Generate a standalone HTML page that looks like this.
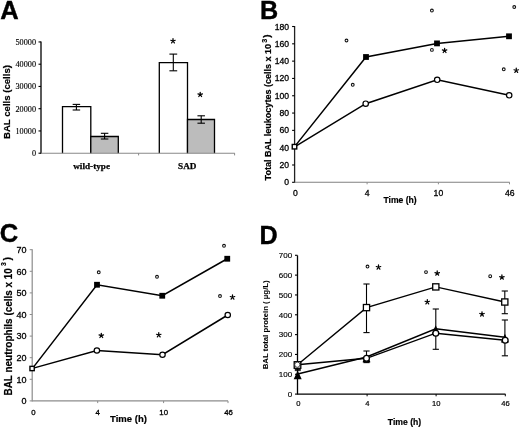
<!DOCTYPE html>
<html><head><meta charset="utf-8"><style>
html,body{margin:0;padding:0;background:#fff;width:520px;height:428px;overflow:hidden;}
svg{display:block;will-change:transform;}
</style></head><body>
<svg width="520" height="428" viewBox="0 0 520 428">
<rect width="520" height="428" fill="#fff"/>
<text x="0.3" y="18.5" font-size="25.5" font-family='"Liberation Sans", sans-serif' font-weight="bold" stroke="#000" stroke-width="0.4" text-anchor="start">A</text>
<line x1="41" y1="41.5" x2="41" y2="153.7" stroke="#000" stroke-width="1.3"/>
<line x1="38.5" y1="153.2" x2="41" y2="153.2" stroke="#000" stroke-width="1.1"/>
<text x="36.0" y="156.2" font-size="8.8" font-family='"Liberation Serif", serif' stroke="#000" stroke-width="0.15" text-anchor="end" textLength="4.1" lengthAdjust="spacingAndGlyphs">0</text>
<line x1="38.5" y1="130.95" x2="41" y2="130.95" stroke="#000" stroke-width="1.1"/>
<text x="36.0" y="133.95" font-size="8.8" font-family='"Liberation Serif", serif' stroke="#000" stroke-width="0.15" text-anchor="end" textLength="20.5" lengthAdjust="spacingAndGlyphs">10000</text>
<line x1="38.5" y1="108.69999999999999" x2="41" y2="108.69999999999999" stroke="#000" stroke-width="1.1"/>
<text x="36.0" y="111.69999999999999" font-size="8.8" font-family='"Liberation Serif", serif' stroke="#000" stroke-width="0.15" text-anchor="end" textLength="20.5" lengthAdjust="spacingAndGlyphs">20000</text>
<line x1="38.5" y1="86.44999999999999" x2="41" y2="86.44999999999999" stroke="#000" stroke-width="1.1"/>
<text x="36.0" y="89.44999999999999" font-size="8.8" font-family='"Liberation Serif", serif' stroke="#000" stroke-width="0.15" text-anchor="end" textLength="20.5" lengthAdjust="spacingAndGlyphs">30000</text>
<line x1="38.5" y1="64.19999999999999" x2="41" y2="64.19999999999999" stroke="#000" stroke-width="1.1"/>
<text x="36.0" y="67.19999999999999" font-size="8.8" font-family='"Liberation Serif", serif' stroke="#000" stroke-width="0.15" text-anchor="end" textLength="20.5" lengthAdjust="spacingAndGlyphs">40000</text>
<line x1="38.5" y1="41.94999999999999" x2="41" y2="41.94999999999999" stroke="#000" stroke-width="1.1"/>
<text x="36.0" y="44.94999999999999" font-size="8.8" font-family='"Liberation Serif", serif' stroke="#000" stroke-width="0.15" text-anchor="end" textLength="20.5" lengthAdjust="spacingAndGlyphs">50000</text>
<rect x="62.5" y="106.7" width="28.299999999999997" height="46.499999999999986" fill="#fff"/>
<path d="M62.5,153.2V106.7H90.8V153.2" fill="none" stroke="#000" stroke-width="1.3"/>
<rect x="90.8" y="136.5" width="27.5" height="16.69999999999999" fill="#bcbcbc"/>
<path d="M90.8,153.2V136.5H118.3V153.2" fill="none" stroke="#000" stroke-width="1.3"/>
<rect x="159.3" y="62.6" width="28.19999999999999" height="90.6" fill="#fff"/>
<path d="M159.3,153.2V62.6H187.5V153.2" fill="none" stroke="#000" stroke-width="1.3"/>
<rect x="187.5" y="119.5" width="27.0" height="33.69999999999999" fill="#bcbcbc"/>
<path d="M187.5,153.2V119.5H214.5V153.2" fill="none" stroke="#000" stroke-width="1.3"/>
<line x1="41" y1="153.2" x2="234.8" y2="153.2" stroke="#888" stroke-width="1.1"/>
<line x1="138.6" y1="153.2" x2="138.6" y2="155.39999999999998" stroke="#888" stroke-width="1.0"/>
<line x1="234.6" y1="153.2" x2="234.6" y2="155.39999999999998" stroke="#888" stroke-width="1.0"/>
<line x1="76.4" y1="104.4" x2="76.4" y2="110.0" stroke="#000" stroke-width="1.1"/>
<line x1="72.65" y1="104.4" x2="80.15" y2="104.4" stroke="#000" stroke-width="1.1"/>
<line x1="72.65" y1="110.0" x2="80.15" y2="110.0" stroke="#000" stroke-width="1.1"/>
<line x1="104.6" y1="133.3" x2="104.6" y2="139.0" stroke="#000" stroke-width="1.1"/>
<line x1="100.85" y1="133.3" x2="108.35" y2="133.3" stroke="#000" stroke-width="1.1"/>
<line x1="100.85" y1="139.0" x2="108.35" y2="139.0" stroke="#000" stroke-width="1.1"/>
<line x1="173.3" y1="54.1" x2="173.3" y2="70.8" stroke="#000" stroke-width="1.1"/>
<line x1="169.4" y1="54.1" x2="177.20000000000002" y2="54.1" stroke="#000" stroke-width="1.1"/>
<line x1="169.4" y1="70.8" x2="177.20000000000002" y2="70.8" stroke="#000" stroke-width="1.1"/>
<line x1="201.2" y1="115.8" x2="201.2" y2="123.2" stroke="#000" stroke-width="1.1"/>
<line x1="197.45" y1="115.8" x2="204.95" y2="115.8" stroke="#000" stroke-width="1.1"/>
<line x1="197.45" y1="123.2" x2="204.95" y2="123.2" stroke="#000" stroke-width="1.1"/>
<path d="M173.00,41.00L173.00,38.65M173.00,41.00L175.23,40.27M173.00,41.00L174.38,42.90M173.00,41.00L171.62,42.90M173.00,41.00L170.77,40.27" stroke="#000" stroke-width="1.25" stroke-linecap="round" fill="none"/>
<path d="M200.20,94.60L200.20,92.25M200.20,94.60L202.43,93.87M200.20,94.60L201.58,96.50M200.20,94.60L198.82,96.50M200.20,94.60L197.97,93.87" stroke="#000" stroke-width="1.25" stroke-linecap="round" fill="none"/>
<text x="91.6" y="169.0" font-size="9.2" font-family='"Liberation Serif", serif' font-weight="bold" stroke="#000" stroke-width="0.25" text-anchor="middle">wild-type</text>
<text x="187.3" y="168.7" font-size="9.2" font-family='"Liberation Serif", serif' font-weight="bold" stroke="#000" stroke-width="0.25" text-anchor="middle">SAD</text>
<text transform="translate(9.9,139) rotate(-90)" font-size="9.6" font-family='"Liberation Sans", sans-serif' font-weight="bold" stroke="#000" stroke-width="0.2" textLength="74" lengthAdjust="spacingAndGlyphs">BAL cells (cells)</text>
<text x="260.0" y="19.0" font-size="25.2" font-family='"Liberation Sans", sans-serif' font-weight="bold" stroke="#000" stroke-width="0.4" text-anchor="start">B</text>
<line x1="294.6" y1="26.0" x2="294.6" y2="182.8" stroke="#222" stroke-width="1.3"/>
<line x1="292.1" y1="182.3" x2="294.6" y2="182.3" stroke="#000" stroke-width="1.1"/>
<text x="289" y="185.3" font-size="8.6" font-family='"Liberation Sans", sans-serif' stroke="#000" stroke-width="0.3" text-anchor="end">0</text>
<line x1="292.1" y1="164.99" x2="294.6" y2="164.99" stroke="#000" stroke-width="1.1"/>
<text x="289" y="167.99" font-size="8.6" font-family='"Liberation Sans", sans-serif' stroke="#000" stroke-width="0.3" text-anchor="end">20</text>
<line x1="292.1" y1="147.68" x2="294.6" y2="147.68" stroke="#000" stroke-width="1.1"/>
<text x="289" y="150.68" font-size="8.6" font-family='"Liberation Sans", sans-serif' stroke="#000" stroke-width="0.3" text-anchor="end">40</text>
<line x1="292.1" y1="130.37" x2="294.6" y2="130.37" stroke="#000" stroke-width="1.1"/>
<text x="289" y="133.37" font-size="8.6" font-family='"Liberation Sans", sans-serif' stroke="#000" stroke-width="0.3" text-anchor="end">60</text>
<line x1="292.1" y1="113.06000000000002" x2="294.6" y2="113.06000000000002" stroke="#000" stroke-width="1.1"/>
<text x="289" y="116.06000000000002" font-size="8.6" font-family='"Liberation Sans", sans-serif' stroke="#000" stroke-width="0.3" text-anchor="end">80</text>
<line x1="292.1" y1="95.75000000000001" x2="294.6" y2="95.75000000000001" stroke="#000" stroke-width="1.1"/>
<text x="289" y="98.75000000000001" font-size="8.6" font-family='"Liberation Sans", sans-serif' stroke="#000" stroke-width="0.3" text-anchor="end">100</text>
<line x1="292.1" y1="78.44000000000003" x2="294.6" y2="78.44000000000003" stroke="#000" stroke-width="1.1"/>
<text x="289" y="81.44000000000003" font-size="8.6" font-family='"Liberation Sans", sans-serif' stroke="#000" stroke-width="0.3" text-anchor="end">120</text>
<line x1="292.1" y1="61.130000000000024" x2="294.6" y2="61.130000000000024" stroke="#000" stroke-width="1.1"/>
<text x="289" y="64.13000000000002" font-size="8.6" font-family='"Liberation Sans", sans-serif' stroke="#000" stroke-width="0.3" text-anchor="end">140</text>
<line x1="292.1" y1="43.82000000000002" x2="294.6" y2="43.82000000000002" stroke="#000" stroke-width="1.1"/>
<text x="289" y="46.82000000000002" font-size="8.6" font-family='"Liberation Sans", sans-serif' stroke="#000" stroke-width="0.3" text-anchor="end">160</text>
<line x1="292.1" y1="26.51000000000002" x2="294.6" y2="26.51000000000002" stroke="#000" stroke-width="1.1"/>
<text x="289" y="29.51000000000002" font-size="8.6" font-family='"Liberation Sans", sans-serif' stroke="#000" stroke-width="0.3" text-anchor="end">180</text>
<line x1="294.6" y1="182.3" x2="509.7" y2="182.3" stroke="#808080" stroke-width="1.1"/>
<line x1="367.1" y1="182.3" x2="367.1" y2="184.3" stroke="#8c8c8c" stroke-width="1.0"/>
<line x1="438.4" y1="182.3" x2="438.4" y2="184.3" stroke="#8c8c8c" stroke-width="1.0"/>
<line x1="509.5" y1="182.3" x2="509.5" y2="184.3" stroke="#8c8c8c" stroke-width="1.0"/>
<text x="295.5" y="195.9" font-size="8.6" font-family='"Liberation Sans", sans-serif' stroke="#000" stroke-width="0.3" text-anchor="middle">0</text>
<text x="367.1" y="195.9" font-size="8.6" font-family='"Liberation Sans", sans-serif' stroke="#000" stroke-width="0.3" text-anchor="middle">4</text>
<text x="438.4" y="195.9" font-size="8.6" font-family='"Liberation Sans", sans-serif' stroke="#000" stroke-width="0.3" text-anchor="middle">10</text>
<text x="509.7" y="195.9" font-size="8.6" font-family='"Liberation Sans", sans-serif' stroke="#000" stroke-width="0.3" text-anchor="middle">46</text>
<text x="383.4" y="203.4" font-size="9.3" font-family='"Liberation Sans", sans-serif' font-weight="bold" stroke="#000" stroke-width="0.2" text-anchor="start" textLength="33.3" lengthAdjust="spacingAndGlyphs">Time (h)</text>
<text transform="translate(270.6,180.4) rotate(-90)" font-size="9.8" font-family='"Liberation Sans", sans-serif' font-weight="bold" stroke="#000" stroke-width="0.2" textLength="136.4" lengthAdjust="spacingAndGlyphs">Total BAL leukocytes (cells x 10</text>
<text transform="translate(266.9,42.7) rotate(-90)" font-size="7.2" font-family='"Liberation Sans", sans-serif' font-weight="bold" stroke="#000" stroke-width="0.15">3</text>
<text transform="translate(270.0,37.8) rotate(-90)" font-size="9.8" font-family='"Liberation Sans", sans-serif' font-weight="bold" stroke="#000" stroke-width="0.2">)</text>
<polyline points="294.6,146.6 366,57 437,43.4 509,36.3" fill="none" stroke="#000" stroke-width="1.5" stroke-linejoin="miter"/>
<polyline points="294.6,146.8 365.7,103.7 437.2,79.8 509.2,95.3" fill="none" stroke="#000" stroke-width="1.5" stroke-linejoin="miter"/>
<rect x="363.1" y="54.1" width="5.8" height="5.8" fill="#000"/>
<rect x="434.1" y="40.5" width="5.8" height="5.8" fill="#000"/>
<rect x="506.1" y="33.4" width="5.8" height="5.8" fill="#000"/>
<circle cx="365.7" cy="103.7" r="2.7" fill="#fff" stroke="#000" stroke-width="1.2"/>
<circle cx="437.2" cy="79.8" r="2.7" fill="#fff" stroke="#000" stroke-width="1.2"/>
<circle cx="509.2" cy="95.3" r="2.7" fill="#fff" stroke="#000" stroke-width="1.2"/>
<rect x="292.25" y="144.45" width="4.5" height="4.5" fill="#fff" stroke="#000" stroke-width="1.4"/>
<circle cx="346.5" cy="40.5" r="1.4" fill="none" stroke="#111" stroke-width="1.05"/>
<circle cx="352.75" cy="84.75" r="1.4" fill="none" stroke="#111" stroke-width="1.05"/>
<circle cx="431.9" cy="10.5" r="1.4" fill="none" stroke="#111" stroke-width="1.05"/>
<circle cx="514.25" cy="7" r="1.4" fill="none" stroke="#111" stroke-width="1.05"/>
<circle cx="431.9" cy="49.9" r="1.4" fill="none" stroke="#111" stroke-width="1.05"/>
<circle cx="503.75" cy="69.25" r="1.4" fill="none" stroke="#111" stroke-width="1.05"/>
<path d="M444.60,50.60L444.60,48.25M444.60,50.60L446.83,49.87M444.60,50.60L445.98,52.50M444.60,50.60L443.22,52.50M444.60,50.60L442.37,49.87" stroke="#000" stroke-width="1.25" stroke-linecap="round" fill="none"/>
<path d="M516.25,70.50L516.25,68.15M516.25,70.50L518.48,69.77M516.25,70.50L517.63,72.40M516.25,70.50L514.87,72.40M516.25,70.50L514.02,69.77" stroke="#000" stroke-width="1.25" stroke-linecap="round" fill="none"/>
<text x="-0.2" y="242.4" font-size="25.5" font-family='"Liberation Sans", sans-serif' font-weight="bold" stroke="#000" stroke-width="0.4" text-anchor="start">C</text>
<line x1="32.2" y1="249.2" x2="32.2" y2="401.4" stroke="#8c8c8c" stroke-width="1.2"/>
<line x1="29.700000000000003" y1="400.9" x2="32.2" y2="400.9" stroke="#8c8c8c" stroke-width="1.0"/>
<text x="26.5" y="404.09999999999997" font-size="9.0" font-family='"Liberation Sans", sans-serif' stroke="#000" stroke-width="0.3" text-anchor="end">0</text>
<line x1="29.700000000000003" y1="379.29999999999995" x2="32.2" y2="379.29999999999995" stroke="#8c8c8c" stroke-width="1.0"/>
<text x="26.5" y="382.49999999999994" font-size="9.0" font-family='"Liberation Sans", sans-serif' stroke="#000" stroke-width="0.3" text-anchor="end">10</text>
<line x1="29.700000000000003" y1="357.7" x2="32.2" y2="357.7" stroke="#8c8c8c" stroke-width="1.0"/>
<text x="26.5" y="360.9" font-size="9.0" font-family='"Liberation Sans", sans-serif' stroke="#000" stroke-width="0.3" text-anchor="end">20</text>
<line x1="29.700000000000003" y1="336.09999999999997" x2="32.2" y2="336.09999999999997" stroke="#8c8c8c" stroke-width="1.0"/>
<text x="26.5" y="339.29999999999995" font-size="9.0" font-family='"Liberation Sans", sans-serif' stroke="#000" stroke-width="0.3" text-anchor="end">30</text>
<line x1="29.700000000000003" y1="314.5" x2="32.2" y2="314.5" stroke="#8c8c8c" stroke-width="1.0"/>
<text x="26.5" y="317.7" font-size="9.0" font-family='"Liberation Sans", sans-serif' stroke="#000" stroke-width="0.3" text-anchor="end">40</text>
<line x1="29.700000000000003" y1="292.9" x2="32.2" y2="292.9" stroke="#8c8c8c" stroke-width="1.0"/>
<text x="26.5" y="296.09999999999997" font-size="9.0" font-family='"Liberation Sans", sans-serif' stroke="#000" stroke-width="0.3" text-anchor="end">50</text>
<line x1="29.700000000000003" y1="271.29999999999995" x2="32.2" y2="271.29999999999995" stroke="#8c8c8c" stroke-width="1.0"/>
<text x="26.5" y="274.49999999999994" font-size="9.0" font-family='"Liberation Sans", sans-serif' stroke="#000" stroke-width="0.3" text-anchor="end">60</text>
<line x1="29.700000000000003" y1="249.69999999999996" x2="32.2" y2="249.69999999999996" stroke="#8c8c8c" stroke-width="1.0"/>
<text x="26.5" y="252.89999999999995" font-size="9.0" font-family='"Liberation Sans", sans-serif' stroke="#000" stroke-width="0.3" text-anchor="end">70</text>
<line x1="32.2" y1="400.9" x2="228" y2="400.9" stroke="#8c8c8c" stroke-width="1.2"/>
<line x1="97.7" y1="400.9" x2="97.7" y2="403.09999999999997" stroke="#8c8c8c" stroke-width="1.0"/>
<line x1="163.6" y1="400.9" x2="163.6" y2="403.09999999999997" stroke="#8c8c8c" stroke-width="1.0"/>
<line x1="228.0" y1="400.9" x2="228.0" y2="403.09999999999997" stroke="#8c8c8c" stroke-width="1.0"/>
<text x="33.5" y="414.8" font-size="7.8" font-family='"Liberation Sans", sans-serif' stroke="#000" stroke-width="0.3" text-anchor="middle">0</text>
<text x="97.7" y="414.8" font-size="7.8" font-family='"Liberation Sans", sans-serif' stroke="#000" stroke-width="0.3" text-anchor="middle">4</text>
<text x="163.7" y="414.8" font-size="7.8" font-family='"Liberation Sans", sans-serif' stroke="#000" stroke-width="0.3" text-anchor="middle">10</text>
<text x="228.6" y="414.8" font-size="7.8" font-family='"Liberation Sans", sans-serif' stroke="#000" stroke-width="0.3" text-anchor="middle">46</text>
<text x="110.1" y="421.6" font-size="9.9" font-family='"Liberation Sans", sans-serif' font-weight="bold" stroke="#000" stroke-width="0.2" text-anchor="start" textLength="36.8" lengthAdjust="spacingAndGlyphs">Time (h)</text>
<text transform="translate(11.7,395.5) rotate(-90)" font-size="10.2" font-family='"Liberation Sans", sans-serif' font-weight="bold" stroke="#000" stroke-width="0.2" textLength="127.4" lengthAdjust="spacingAndGlyphs">BAL neutrophils (cells x 10</text>
<text transform="translate(5.9,265.9) rotate(-90)" font-size="6.8" font-family='"Liberation Sans", sans-serif' font-weight="bold" stroke="#000" stroke-width="0.15">3</text>
<text transform="translate(11.2,260.6) rotate(-90)" font-size="10.2" font-family='"Liberation Sans", sans-serif' font-weight="bold" stroke="#000" stroke-width="0.2">)</text>
<polyline points="32.5,368.4 97,284.75 162.25,295.75 227.25,258.75" fill="none" stroke="#000" stroke-width="1.5" stroke-linejoin="miter"/>
<polyline points="32.5,368.4 96.9,350.5 162.5,354.75 227.75,315" fill="none" stroke="#000" stroke-width="1.5" stroke-linejoin="miter"/>
<rect x="94.1" y="281.85" width="5.8" height="5.8" fill="#000"/>
<rect x="159.35" y="292.85" width="5.8" height="5.8" fill="#000"/>
<rect x="224.35" y="255.85" width="5.8" height="5.8" fill="#000"/>
<circle cx="96.9" cy="350.5" r="2.7" fill="#fff" stroke="#000" stroke-width="1.2"/>
<circle cx="162.5" cy="354.75" r="2.7" fill="#fff" stroke="#000" stroke-width="1.2"/>
<circle cx="227.75" cy="315" r="2.7" fill="#fff" stroke="#000" stroke-width="1.2"/>
<rect x="29.950000000000003" y="366.35" width="4.3" height="4.3" fill="#fff" stroke="#000" stroke-width="1.4"/>
<circle cx="98.75" cy="272.25" r="1.4" fill="none" stroke="#111" stroke-width="1.05"/>
<circle cx="157" cy="276.75" r="1.4" fill="none" stroke="#111" stroke-width="1.05"/>
<circle cx="224" cy="245.75" r="1.4" fill="none" stroke="#111" stroke-width="1.05"/>
<circle cx="220" cy="296" r="1.4" fill="none" stroke="#111" stroke-width="1.05"/>
<path d="M101.30,335.60L101.30,333.25M101.30,335.60L103.53,334.87M101.30,335.60L102.68,337.50M101.30,335.60L99.92,337.50M101.30,335.60L99.07,334.87" stroke="#000" stroke-width="1.25" stroke-linecap="round" fill="none"/>
<path d="M158.75,335.00L158.75,332.65M158.75,335.00L160.98,334.27M158.75,335.00L160.13,336.90M158.75,335.00L157.37,336.90M158.75,335.00L156.52,334.27" stroke="#000" stroke-width="1.25" stroke-linecap="round" fill="none"/>
<path d="M232.50,297.25L232.50,294.90M232.50,297.25L234.73,296.52M232.50,297.25L233.88,299.15M232.50,297.25L231.12,299.15M232.50,297.25L230.27,296.52" stroke="#000" stroke-width="1.25" stroke-linecap="round" fill="none"/>
<text x="259.4" y="244.4" font-size="25.2" font-family='"Liberation Sans", sans-serif' font-weight="bold" stroke="#000" stroke-width="0.4" text-anchor="start">D</text>
<line x1="297.5" y1="255.4" x2="297.5" y2="394.6" stroke="#000" stroke-width="1.3"/>
<line x1="295.0" y1="394.1" x2="297.5" y2="394.1" stroke="#000" stroke-width="1.1"/>
<text x="292.1" y="396.85" font-size="8.0" font-family='"Liberation Sans", sans-serif' stroke="#000" stroke-width="0.15" text-anchor="end">0</text>
<line x1="295.0" y1="374.27000000000004" x2="297.5" y2="374.27000000000004" stroke="#000" stroke-width="1.1"/>
<text x="292.1" y="377.02000000000004" font-size="8.0" font-family='"Liberation Sans", sans-serif' stroke="#000" stroke-width="0.15" text-anchor="end">100</text>
<line x1="295.0" y1="354.44000000000005" x2="297.5" y2="354.44000000000005" stroke="#000" stroke-width="1.1"/>
<text x="292.1" y="357.19000000000005" font-size="8.0" font-family='"Liberation Sans", sans-serif' stroke="#000" stroke-width="0.15" text-anchor="end">200</text>
<line x1="295.0" y1="334.61" x2="297.5" y2="334.61" stroke="#000" stroke-width="1.1"/>
<text x="292.1" y="337.36" font-size="8.0" font-family='"Liberation Sans", sans-serif' stroke="#000" stroke-width="0.15" text-anchor="end">300</text>
<line x1="295.0" y1="314.78000000000003" x2="297.5" y2="314.78000000000003" stroke="#000" stroke-width="1.1"/>
<text x="292.1" y="317.53000000000003" font-size="8.0" font-family='"Liberation Sans", sans-serif' stroke="#000" stroke-width="0.15" text-anchor="end">400</text>
<line x1="295.0" y1="294.95000000000005" x2="297.5" y2="294.95000000000005" stroke="#000" stroke-width="1.1"/>
<text x="292.1" y="297.70000000000005" font-size="8.0" font-family='"Liberation Sans", sans-serif' stroke="#000" stroke-width="0.15" text-anchor="end">500</text>
<line x1="295.0" y1="275.12" x2="297.5" y2="275.12" stroke="#000" stroke-width="1.1"/>
<text x="292.1" y="277.87" font-size="8.0" font-family='"Liberation Sans", sans-serif' stroke="#000" stroke-width="0.15" text-anchor="end">600</text>
<line x1="295.0" y1="255.29000000000002" x2="297.5" y2="255.29000000000002" stroke="#000" stroke-width="1.1"/>
<text x="292.1" y="258.04" font-size="8.0" font-family='"Liberation Sans", sans-serif' stroke="#000" stroke-width="0.15" text-anchor="end">700</text>
<line x1="297.5" y1="394.1" x2="505.5" y2="394.1" stroke="#000" stroke-width="1.2"/>
<line x1="367.1" y1="394.1" x2="367.1" y2="396.3" stroke="#000" stroke-width="1.0"/>
<line x1="436.1" y1="394.1" x2="436.1" y2="396.3" stroke="#000" stroke-width="1.0"/>
<line x1="505.3" y1="394.1" x2="505.3" y2="396.3" stroke="#000" stroke-width="1.0"/>
<text x="298.4" y="406.2" font-size="7.6" font-family='"Liberation Sans", sans-serif' stroke="#000" stroke-width="0.2" text-anchor="middle">0</text>
<text x="367.3" y="406.2" font-size="7.6" font-family='"Liberation Sans", sans-serif' stroke="#000" stroke-width="0.2" text-anchor="middle">4</text>
<text x="436.2" y="406.2" font-size="7.6" font-family='"Liberation Sans", sans-serif' stroke="#000" stroke-width="0.2" text-anchor="middle">10</text>
<text x="505.6" y="406.2" font-size="7.6" font-family='"Liberation Sans", sans-serif' stroke="#000" stroke-width="0.2" text-anchor="middle">46</text>
<text x="387.8" y="425.3" font-size="9.0" font-family='"Liberation Sans", sans-serif' font-weight="bold" stroke="#000" stroke-width="0.2" text-anchor="start" textLength="33.4" lengthAdjust="spacingAndGlyphs">Time (h)</text>
<text transform="translate(268.4,369.3) rotate(-90)" font-size="7.8" font-family='"Liberation Sans", sans-serif' font-weight="bold" stroke="#000" stroke-width="0.05" textLength="89" lengthAdjust="spacingAndGlyphs">BAL total protein ( µg/L)</text>
<line x1="366.5" y1="284.0" x2="366.5" y2="332.6" stroke="#000" stroke-width="1.1"/>
<line x1="363.4" y1="284.0" x2="369.6" y2="284.0" stroke="#000" stroke-width="1.1"/>
<line x1="363.4" y1="332.6" x2="369.6" y2="332.6" stroke="#000" stroke-width="1.1"/>
<line x1="504.8" y1="291.0" x2="504.8" y2="313.7" stroke="#000" stroke-width="1.1"/>
<line x1="501.7" y1="291.0" x2="507.90000000000003" y2="291.0" stroke="#000" stroke-width="1.1"/>
<line x1="501.7" y1="313.7" x2="507.90000000000003" y2="313.7" stroke="#000" stroke-width="1.1"/>
<line x1="366.5" y1="351.0" x2="366.5" y2="362.6" stroke="#000" stroke-width="1.1"/>
<line x1="363.4" y1="351.0" x2="369.6" y2="351.0" stroke="#000" stroke-width="1.1"/>
<line x1="363.4" y1="362.6" x2="369.6" y2="362.6" stroke="#000" stroke-width="1.1"/>
<line x1="435.8" y1="309.0" x2="435.8" y2="349.3" stroke="#000" stroke-width="1.1"/>
<line x1="432.7" y1="309.0" x2="438.90000000000003" y2="309.0" stroke="#000" stroke-width="1.1"/>
<line x1="432.7" y1="349.3" x2="438.90000000000003" y2="349.3" stroke="#000" stroke-width="1.1"/>
<line x1="504.9" y1="320.0" x2="504.9" y2="355.8" stroke="#000" stroke-width="1.1"/>
<line x1="501.79999999999995" y1="320.0" x2="508.0" y2="320.0" stroke="#000" stroke-width="1.1"/>
<line x1="501.79999999999995" y1="355.8" x2="508.0" y2="355.8" stroke="#000" stroke-width="1.1"/>
<line x1="297.8" y1="369.5" x2="297.8" y2="370.6" stroke="#000" stroke-width="0.9"/>
<line x1="294.8" y1="369.5" x2="300.8" y2="369.5" stroke="#000" stroke-width="0.9"/>
<line x1="294.8" y1="370.6" x2="300.8" y2="370.6" stroke="#000" stroke-width="0.9"/>
<polyline points="297.7,374.0 366.5,357.0 435.7,328.8 504.9,337.3" fill="none" stroke="#000" stroke-width="1.4" stroke-linejoin="miter"/>
<polyline points="297.3,364.8 366.5,358.3 435.8,333.2 505.2,340.2" fill="none" stroke="#000" stroke-width="1.4" stroke-linejoin="miter"/>
<polyline points="297.5,364.8 366.5,307.6 435.8,286.9 504.8,302.0" fill="none" stroke="#000" stroke-width="1.4" stroke-linejoin="miter"/>
<polygon points="293.7,379.3 301.7,379.3 297.7,370.4" fill="#000"/>
<polygon points="362.5,362.3 370.5,362.3 366.5,353.4" fill="#000"/>
<polygon points="431.7,334.1 439.7,334.1 435.7,325.2" fill="#000"/>
<polygon points="500.9,342.6 508.9,342.6 504.9,333.7" fill="#000"/>
<circle cx="366.5" cy="358.3" r="2.9" fill="#fff" stroke="#000" stroke-width="1.3"/>
<circle cx="435.8" cy="333.2" r="2.9" fill="#fff" stroke="#000" stroke-width="1.3"/>
<circle cx="505.2" cy="340.2" r="2.9" fill="#fff" stroke="#000" stroke-width="1.3"/>
<rect x="363.4" y="304.5" width="6.2" height="6.2" fill="#fff" stroke="#000" stroke-width="1.3"/>
<rect x="432.7" y="283.79999999999995" width="6.2" height="6.2" fill="#fff" stroke="#000" stroke-width="1.3"/>
<rect x="501.7" y="298.9" width="6.2" height="6.2" fill="#fff" stroke="#000" stroke-width="1.3"/>
<rect x="294.2" y="361.7" width="6.6" height="6.6" fill="#fff" stroke="#000" stroke-width="1.3"/>
<circle cx="297.3" cy="364.7" r="2.6" fill="#fff" stroke="#000" stroke-width="0.7"/>
<circle cx="367.5" cy="266.5" r="1.4" fill="none" stroke="#111" stroke-width="1.05"/>
<circle cx="426" cy="272.1" r="1.4" fill="none" stroke="#111" stroke-width="1.05"/>
<circle cx="490.2" cy="276.2" r="1.4" fill="none" stroke="#111" stroke-width="1.05"/>
<path d="M378.50,267.25L378.50,264.90M378.50,267.25L380.73,266.52M378.50,267.25L379.88,269.15M378.50,267.25L377.12,269.15M378.50,267.25L376.27,266.52" stroke="#000" stroke-width="1.25" stroke-linecap="round" fill="none"/>
<path d="M437.20,273.30L437.20,270.95M437.20,273.30L439.43,272.57M437.20,273.30L438.58,275.20M437.20,273.30L435.82,275.20M437.20,273.30L434.97,272.57" stroke="#000" stroke-width="1.25" stroke-linecap="round" fill="none"/>
<path d="M501.90,277.30L501.90,274.95M501.90,277.30L504.13,276.57M501.90,277.30L503.28,279.20M501.90,277.30L500.52,279.20M501.90,277.30L499.67,276.57" stroke="#000" stroke-width="1.25" stroke-linecap="round" fill="none"/>
<path d="M427.30,302.00L427.30,299.65M427.30,302.00L429.53,301.27M427.30,302.00L428.68,303.90M427.30,302.00L425.92,303.90M427.30,302.00L425.07,301.27" stroke="#000" stroke-width="1.25" stroke-linecap="round" fill="none"/>
<path d="M482.00,314.20L482.00,311.85M482.00,314.20L484.23,313.47M482.00,314.20L483.38,316.10M482.00,314.20L480.62,316.10M482.00,314.20L479.77,313.47" stroke="#000" stroke-width="1.25" stroke-linecap="round" fill="none"/>
</svg>
</body></html>
